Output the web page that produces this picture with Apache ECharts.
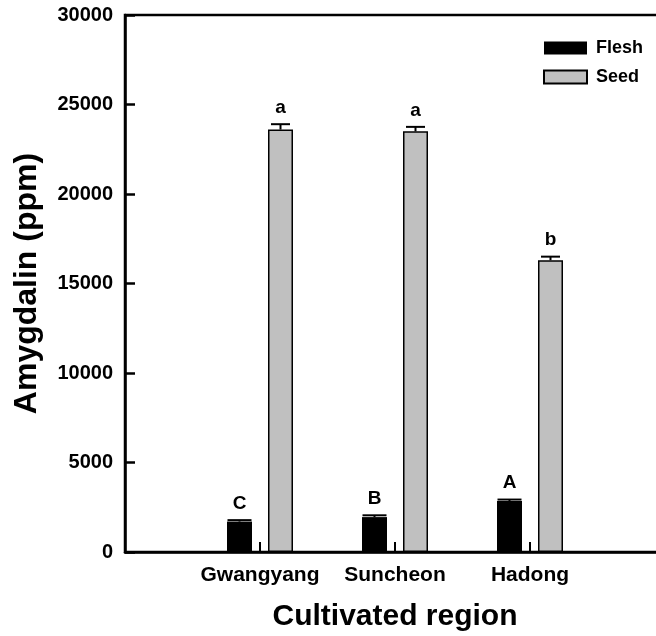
<!DOCTYPE html>
<html>
<head>
<meta charset="utf-8">
<script src="https://cdn.jsdelivr.net/npm/echarts@6/dist/echarts.min.js"></script>
<style>
html,body{margin:0;padding:0;background:#fff;}
#chart{width:656px;height:636px;}
</style>
</head>
<body>
<div id="chart"></div>
<script>
// ---- data ----
const categories = ['', 'Gwangyang', 'Suncheon', 'Hadong', ''];
const fleshValues = [null, 1700, 1950, 2850, null];
const fleshErrors = [null, 80, 100, 80, null];
const fleshLetters = ['', 'C', 'B', 'A', ''];
const seedValues = [null, 23600, 23500, 16300, null];
const seedErrors = [null, 300, 250, 200, null];
const seedLetters = ['', 'a', 'a', 'b', ''];
const yTicks = [0, 5000, 10000, 15000, 20000, 25000, 30000];

const FONT = '"Liberation Sans", Arial, sans-serif';

function errSeries(name, vals, errs, letters, offset, capW) {
  const data = [];
  vals.forEach((v, i) => { if (v !== null) data.push([i, v, errs[i]]); });
  return {
    type: 'custom',
    name: name,
    z: 5,
    data: data,
    renderItem: function (params, api) {
      const xi = api.value(0), v = api.value(1), e = api.value(2);
      const p0 = api.coord([xi, v]);
      const p1 = api.coord([xi, v + e]);
      const cx = p0[0] + offset;
      return {
        type: 'group',
        children: [
          { type: 'line', shape: { x1: cx, y1: p0[1], x2: cx, y2: p1[1] }, style: { stroke: '#000', lineWidth: 2 } },
          { type: 'line', shape: { x1: cx - capW / 2, y1: p1[1], x2: cx + capW / 2, y2: p1[1] }, style: { stroke: '#000', lineWidth: 2 } },
          { type: 'text', style: { text: letters[xi], x: cx, y: p1[1] - 7, align: 'center', verticalAlign: 'bottom', font: 'bold 19px ' + FONT, fill: '#000' } }
        ]
      };
    }
  };
}

const chart = echarts.init(document.getElementById('chart'));
chart.setOption({
  animation: false,
  backgroundColor: '#fff',
  grid: { left: 125, right: -9, top: 15, bottom: 84, outerBoundsMode: 'none', containLabel: false, show: true, borderColor: '#000', borderWidth: 2.5, backgroundColor: 'transparent' },
  legend: {
    data: ['Flesh', 'Seed'],
    orient: 'vertical',
    left: 543, top: 39,
    padding: 0,
    itemWidth: 43, itemHeight: 13, itemGap: 11,
    textStyle: { fontFamily: FONT, fontWeight: 'bold', fontSize: 18, color: '#000', padding: [0, 0, 0, 4] },
    icon: 'rect'
  },
  xAxis: {
    type: 'category',
    data: categories,
    boundaryGap: false,
    name: 'Cultivated region',
    nameLocation: 'middle',
    nameGap: 50,
    nameTextStyle: { fontFamily: FONT, fontWeight: 'bold', fontSize: 30, color: '#000' },
    axisLine: { lineStyle: { color: '#000', width: 2.5 } },
    axisTick: { inside: true, length: 10, lineStyle: { width: 2, color: '#000' }, interval: function (i, v) { return v !== ''; } },
    axisLabel: { interval: 0, margin: 13, fontFamily: FONT, fontWeight: 'bold', fontSize: 21, color: '#000' },
    splitLine: { show: false }
  },
  yAxis: {
    type: 'value',
    min: yTicks[0], max: yTicks[yTicks.length - 1], interval: yTicks[1] - yTicks[0],
    name: 'Amygdalin (ppm)',
    nameLocation: 'middle',
    nameGap: 82,
    nameTextStyle: { fontFamily: FONT, fontWeight: 'bold', fontSize: 32, color: '#000' },
    axisLine: { show: true, lineStyle: { color: '#000', width: 2.5 } },
    axisTick: { show: true, inside: true, length: 10, lineStyle: { width: 2.5, color: '#000' } },
    axisLabel: { margin: 12, fontFamily: FONT, fontWeight: 'bold', fontSize: 20, color: '#000', formatter: function (v) { return String(v); } },
    splitLine: { show: false }
  },
  series: [
    { type: 'bar', name: 'Flesh', data: fleshValues, barWidth: 25, barGap: '64%', itemStyle: { color: '#000' } },
    { type: 'bar', name: 'Seed', data: seedValues, barWidth: 25, barGap: '64%', itemStyle: { color: '#c0c0c0', borderColor: '#000', borderWidth: 1.5 } },
    errSeries('FleshErr', fleshValues, fleshErrors, fleshLetters, -20.5, 24),
    errSeries('SeedErr', seedValues, seedErrors, seedLetters, 20.5, 19)
  ]
});
</script>
</body>
</html>
